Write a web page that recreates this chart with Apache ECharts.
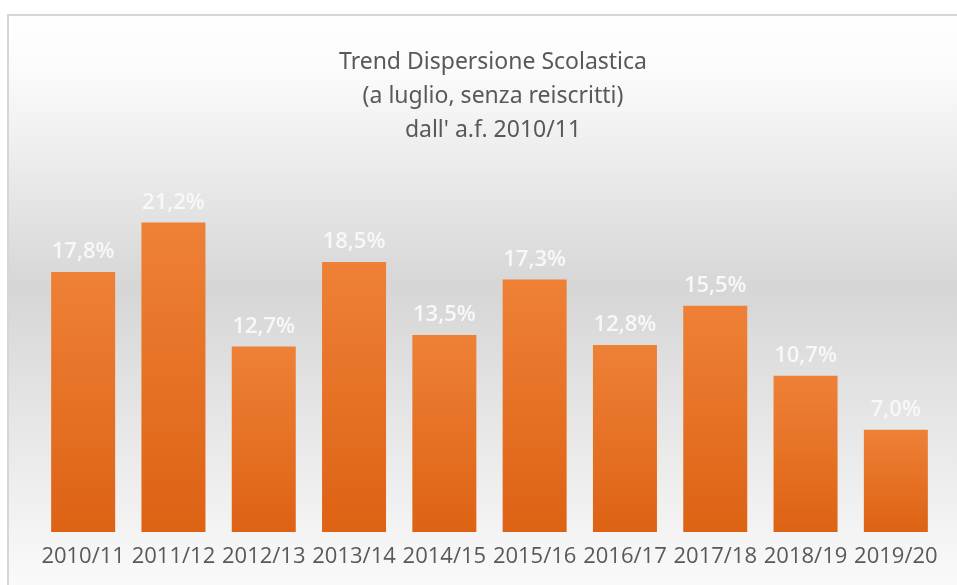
<!DOCTYPE html>
<html><head><meta charset="utf-8">
<script src="https://cdn.jsdelivr.net/npm/echarts@6/dist/echarts.min.js"></script>
<style>html,body{margin:0;padding:0;background:#fff;overflow:hidden}#c{width:957px;height:585px}</style>
</head><body><div id="c"></div>
<script>
const categories = ['2010/11','2011/12','2012/13','2013/14','2014/15','2015/16','2016/17','2017/18','2018/19','2019/20'];
const values = [17.8, 21.2, 12.7, 18.5, 13.5, 17.3, 12.8, 15.5, 10.7, 7.0];
const titleLines = ['Trend Dispersione Scolastica', '(a luglio, senza reiscritti)', "dall' a.f. 2010/11"];

const chart = echarts.init(document.getElementById('c'), null, {renderer: 'canvas'});
chart.setOption({
  animation: false,
  graphic: [{
    type: 'rect', z: -10, silent: true,
    shape: {x: 8, y: 15, width: 949, height: 570},
    style: {
      fill: new echarts.graphic.LinearGradient(0, 0, 0, 1, [
        {offset: 0, color: '#ffffff'},
        {offset: 0.1, color: '#fbfbfb'},
        {offset: 0.48, color: '#d6d6d6'},
        {offset: 1, color: '#fafafa'}
      ])
    }
  }, {
    type: 'polyline', z: -9, silent: true,
    shape: {points: [[8, 600], [8, 15], [960, 15]]},
    style: {stroke: '#d6d6d6', lineWidth: 2, fill: null}
  }],
  title: {
    text: titleLines.join('\n'),
    left: 488, top: 40, textAlign: 'center',
    textStyle: {fontFamily: 'Noto Sans', fontWeight: 'normal', fontSize: 23, color: '#595959', lineHeight: 34}
  },
  grid: {left: 38, right: 16, top: 167, bottom: 53},
  xAxis: {
    type: 'category', data: categories,
    axisLine: {show: false}, axisTick: {show: false},
    axisLabel: {interval: 0, fontFamily: 'Open Sans', fontSize: 22, color: '#595959', margin: 14}
  },
  yAxis: {type: 'value', min: 0, max: 25, show: false, splitLine: {show: false}},
  series: [{
    type: 'bar', data: values, barWidth: 64,
    itemStyle: {
      color: new echarts.graphic.LinearGradient(0, 0, 0, 1, [
        {offset: 0, color: '#ee8136'},
        {offset: 1, color: '#dd6214'}
      ])
    },
    label: {
      show: true, position: 'top', distance: 9,
      fontFamily: 'Open Sans', fontSize: 22, fontWeight: 600, color: '#f8f8f8',
      formatter: p => p.value.toFixed(1).replace('.', ',') + '%'
    }
  }]
});
</script></body></html>
